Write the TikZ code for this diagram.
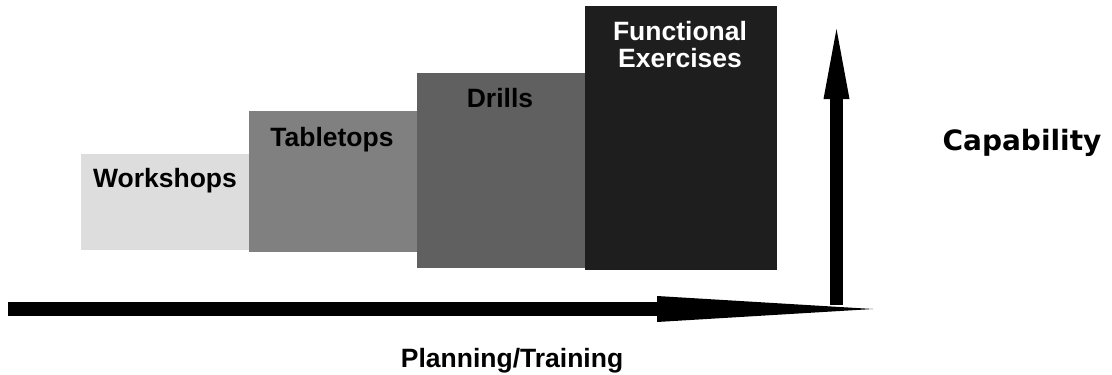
\documentclass[tikz,border=0pt]{standalone}
\usepackage{fontspec}
\setmainfont{Liberation Sans}
\newfontfamily\capfont{DejaVu Sans}
\usetikzlibrary{calc}
\definecolor{wsgray}{HTML}{DDDDDD}
\definecolor{ttgray}{HTML}{808080}
\definecolor{drgray}{HTML}{606060}
\definecolor{fegray}{HTML}{1E1E1E}
\tikzset{
  lbl/.style={font=\fontsize{26.5}{30}\selectfont\bfseries, anchor=base, inner sep=0pt},
  hshaft/.style={line width=14pt},
  vshaft/.style={line width=13pt},
  headfill/.style={fill=black}
}
\begin{document}
\begin{tikzpicture}[x=1pt,y=-1pt]
\useasboundingbox (0,0) rectangle (1112,375);
% blocks
\fill[wsgray] (81,154) rectangle (249,250);
\fill[ttgray] (249,111) rectangle (417,252);
\fill[drgray] (417,73) rectangle (585,268);
\fill[fegray] (585,6) rectangle (777,270);
% labels
\node[lbl] (ws) at (165,187) {Workshops};
\node[lbl] (tt) at (332,146) {Tabletops};
\node[lbl] (dr) at (500,107) {Drills};
\node[lbl, text=white] (fe1) at (680,40) {Functional};
\node[lbl, text=white] (fe2) at (680,67) {Exercises};
\node[anchor=base, inner sep=0pt, font=\capfont\fontsize{28}{32}\selectfont\bfseries] (cap) at (1022,150) {Capability};
\node[lbl] (pt) at (512,367) {Planning/Training};
% axes
\coordinate (hs) at (8,309);
\coordinate (hb) at (657,309);
\coordinate (he) at (873,309);
\coordinate (vs) at (836.5,305);
\coordinate (vb) at (836.5,99);
\coordinate (ve) at (836.5,29);
\draw[hshaft] (hs) -- (hb);
\fill[headfill] ($(hb)+(0,-13)$) -- (he) -- ($(hb)+(0,13)$) -- cycle;
\draw[vshaft] (vs) -- (vb);
\fill[headfill] ($(vb)+(-13,0)$) -- (ve) -- ($(vb)+(13,0)$) -- cycle;
\end{tikzpicture}
\end{document}
